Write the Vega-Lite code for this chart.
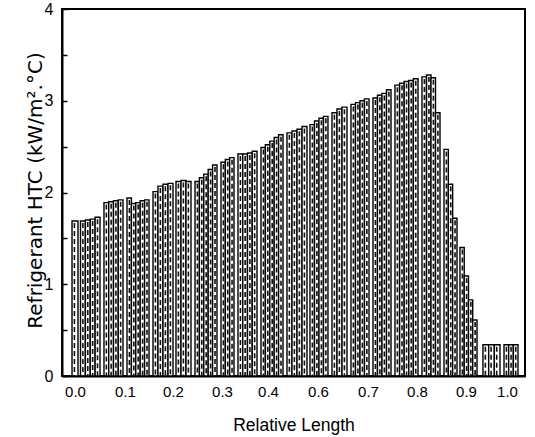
{
  "$schema": "https://vega.github.io/schema/vega-lite/v6.json",
  "width": 463,
  "height": 367,
  "autosize": "none",
  "padding": {"left": 62, "top": 9, "right": 10, "bottom": 61},
  "background": "white",
  "config": {
    "font": "Liberation Sans",
    "view": {"stroke": "black", "strokeWidth": 2},
    "axis": {"grid": false, "domainColor": "black", "domainWidth": 2, "labelColor": "black", "titleColor": "black", "tickColor": "black"}
  },
  "data": {
    "values": [
      {"start": -0.0069, "end": 0.0069, "htc": 1.69},
      {"start": 0.0127, "end": 0.0240, "htc": 1.69},
      {"start": 0.0240, "end": 0.0353, "htc": 1.70},
      {"start": 0.0353, "end": 0.0466, "htc": 1.71},
      {"start": 0.0466, "end": 0.0579, "htc": 1.73},
      {"start": 0.0671, "end": 0.0781, "htc": 1.89},
      {"start": 0.0781, "end": 0.0891, "htc": 1.90},
      {"start": 0.0891, "end": 0.1001, "htc": 1.91},
      {"start": 0.1001, "end": 0.1111, "htc": 1.92},
      {"start": 0.1204, "end": 0.1306, "htc": 1.94},
      {"start": 0.1306, "end": 0.1407, "htc": 1.88},
      {"start": 0.1407, "end": 0.1509, "htc": 1.89},
      {"start": 0.1509, "end": 0.1611, "htc": 1.91},
      {"start": 0.1611, "end": 0.1713, "htc": 1.92},
      {"start": 0.1806, "end": 0.1921, "htc": 2.01},
      {"start": 0.1921, "end": 0.2037, "htc": 2.07},
      {"start": 0.2037, "end": 0.2153, "htc": 2.09},
      {"start": 0.2153, "end": 0.2269, "htc": 2.10},
      {"start": 0.2338, "end": 0.2454, "htc": 2.12},
      {"start": 0.2454, "end": 0.2569, "htc": 2.13},
      {"start": 0.2569, "end": 0.2685, "htc": 2.12},
      {"start": 0.2778, "end": 0.2880, "htc": 2.12},
      {"start": 0.2880, "end": 0.2981, "htc": 2.16},
      {"start": 0.2981, "end": 0.3083, "htc": 2.20},
      {"start": 0.3083, "end": 0.3185, "htc": 2.25},
      {"start": 0.3185, "end": 0.3287, "htc": 2.30},
      {"start": 0.3380, "end": 0.3480, "htc": 2.33},
      {"start": 0.3480, "end": 0.3580, "htc": 2.36},
      {"start": 0.3580, "end": 0.3681, "htc": 2.38},
      {"start": 0.3773, "end": 0.3883, "htc": 2.42},
      {"start": 0.3883, "end": 0.3993, "htc": 2.42},
      {"start": 0.3993, "end": 0.4103, "htc": 2.43},
      {"start": 0.4103, "end": 0.4213, "htc": 2.45},
      {"start": 0.4306, "end": 0.4407, "htc": 2.49},
      {"start": 0.4407, "end": 0.4509, "htc": 2.52},
      {"start": 0.4509, "end": 0.4611, "htc": 2.56},
      {"start": 0.4611, "end": 0.4713, "htc": 2.60},
      {"start": 0.4713, "end": 0.4815, "htc": 2.63},
      {"start": 0.4907, "end": 0.5023, "htc": 2.65},
      {"start": 0.5023, "end": 0.5139, "htc": 2.67},
      {"start": 0.5139, "end": 0.5255, "htc": 2.69},
      {"start": 0.5255, "end": 0.5370, "htc": 2.72},
      {"start": 0.5440, "end": 0.5544, "htc": 2.74},
      {"start": 0.5544, "end": 0.5648, "htc": 2.78},
      {"start": 0.5648, "end": 0.5752, "htc": 2.81},
      {"start": 0.5752, "end": 0.5856, "htc": 2.83},
      {"start": 0.5949, "end": 0.6065, "htc": 2.87},
      {"start": 0.6065, "end": 0.6181, "htc": 2.91},
      {"start": 0.6181, "end": 0.6296, "htc": 2.93},
      {"start": 0.6389, "end": 0.6493, "htc": 2.96},
      {"start": 0.6493, "end": 0.6597, "htc": 2.98},
      {"start": 0.6597, "end": 0.6701, "htc": 3.00},
      {"start": 0.6701, "end": 0.6806, "htc": 3.02},
      {"start": 0.6898, "end": 0.7002, "htc": 3.03},
      {"start": 0.7002, "end": 0.7106, "htc": 3.06},
      {"start": 0.7106, "end": 0.7211, "htc": 3.08},
      {"start": 0.7211, "end": 0.7315, "htc": 3.12},
      {"start": 0.7407, "end": 0.7514, "htc": 3.17},
      {"start": 0.7514, "end": 0.7620, "htc": 3.19},
      {"start": 0.7620, "end": 0.7727, "htc": 3.21},
      {"start": 0.7727, "end": 0.7833, "htc": 3.22},
      {"start": 0.7833, "end": 0.7940, "htc": 3.24},
      {"start": 0.8032, "end": 0.8137, "htc": 3.26},
      {"start": 0.8137, "end": 0.8241, "htc": 3.28},
      {"start": 0.8241, "end": 0.8345, "htc": 3.25},
      {"start": 0.8345, "end": 0.8449, "htc": 2.87},
      {"start": 0.8542, "end": 0.8642, "htc": 2.47},
      {"start": 0.8642, "end": 0.8742, "htc": 2.09},
      {"start": 0.8742, "end": 0.8843, "htc": 1.72},
      {"start": 0.8912, "end": 0.9010, "htc": 1.40},
      {"start": 0.9010, "end": 0.9109, "htc": 1.09},
      {"start": 0.9109, "end": 0.9207, "htc": 0.83},
      {"start": 0.9207, "end": 0.9306, "htc": 0.61},
      {"start": 0.9444, "end": 0.9576, "htc": 0.34},
      {"start": 0.9576, "end": 0.9707, "htc": 0.34},
      {"start": 0.9707, "end": 0.9838, "htc": 0.34},
      {"start": 0.9931, "end": 1.0039, "htc": 0.34},
      {"start": 1.0039, "end": 1.0147, "htc": 0.34},
      {"start": 1.0147, "end": 1.0255, "htc": 0.34}
    ]
  },
  "encoding": {
    "x": {
      "field": "start", "type": "quantitative",
      "scale": {"domain": [-0.0301, 1.0417], "nice": false, "zero": false},
      "axis": {
        "title": "Relative Length",
        "values": [0, 0.1157, 0.2269, 0.3403, 0.4468, 0.5625, 0.6782, 0.7917, 0.9051, 1.0],
        "labelExpr": "['0.0','0.1','0.2','0.3','0.4','0.6','0.7','0.8','0.9','1.0'][round(datum.value*9)]",
        "ticks": false,
        "labelPadding": 8,
        "labelFontSize": 15,
        "labelFlush": false,
        "titleFontSize": 17.5,
        "titleFontWeight": "normal",
        "titlePadding": 17
      }
    },
    "y": {
      "field": "htc", "type": "quantitative",
      "scale": {"domain": [0, 4], "nice": false},
      "axis": {
        "title": "Refrigerant HTC  (kW/m\u00b2.\u00b0C)",
        "values": [0, 0.5, 1, 1.5, 2, 2.5, 3, 3.5, 4],
        "labelExpr": "datum.value % 1 == 0 ? format(datum.value, 'd') : ''",
        "tickSize": -5,
        "tickWidth": 1.5,
        "labelPadding": 14,
        "labelAlign": "right",
        "labelFontSize": 16,
        "labelFlush": false,
        "titleFont": "DejaVu Sans",
        "titleFontSize": 20,
        "titleFontWeight": "normal",
        "titleX": -17,
        "titleY": 181,
        "titleAngle": -90,
        "titleBaseline": "bottom",
        "titleAlign": "center"
      }
    },
    "y2": {"datum": 0}
  },
  "layer": [
    {
      "mark": {"type": "bar", "stroke": "black", "strokeWidth": 1.4, "fill": "white"},
      "encoding": {"x2": {"field": "end"}}
    },
    {
      "mark": {"type": "rule", "color": "#111111", "strokeWidth": 1.6, "strokeDash": [5, 3], "xOffset": 2.4, "yOffset": 2}
    }
  ]
}
